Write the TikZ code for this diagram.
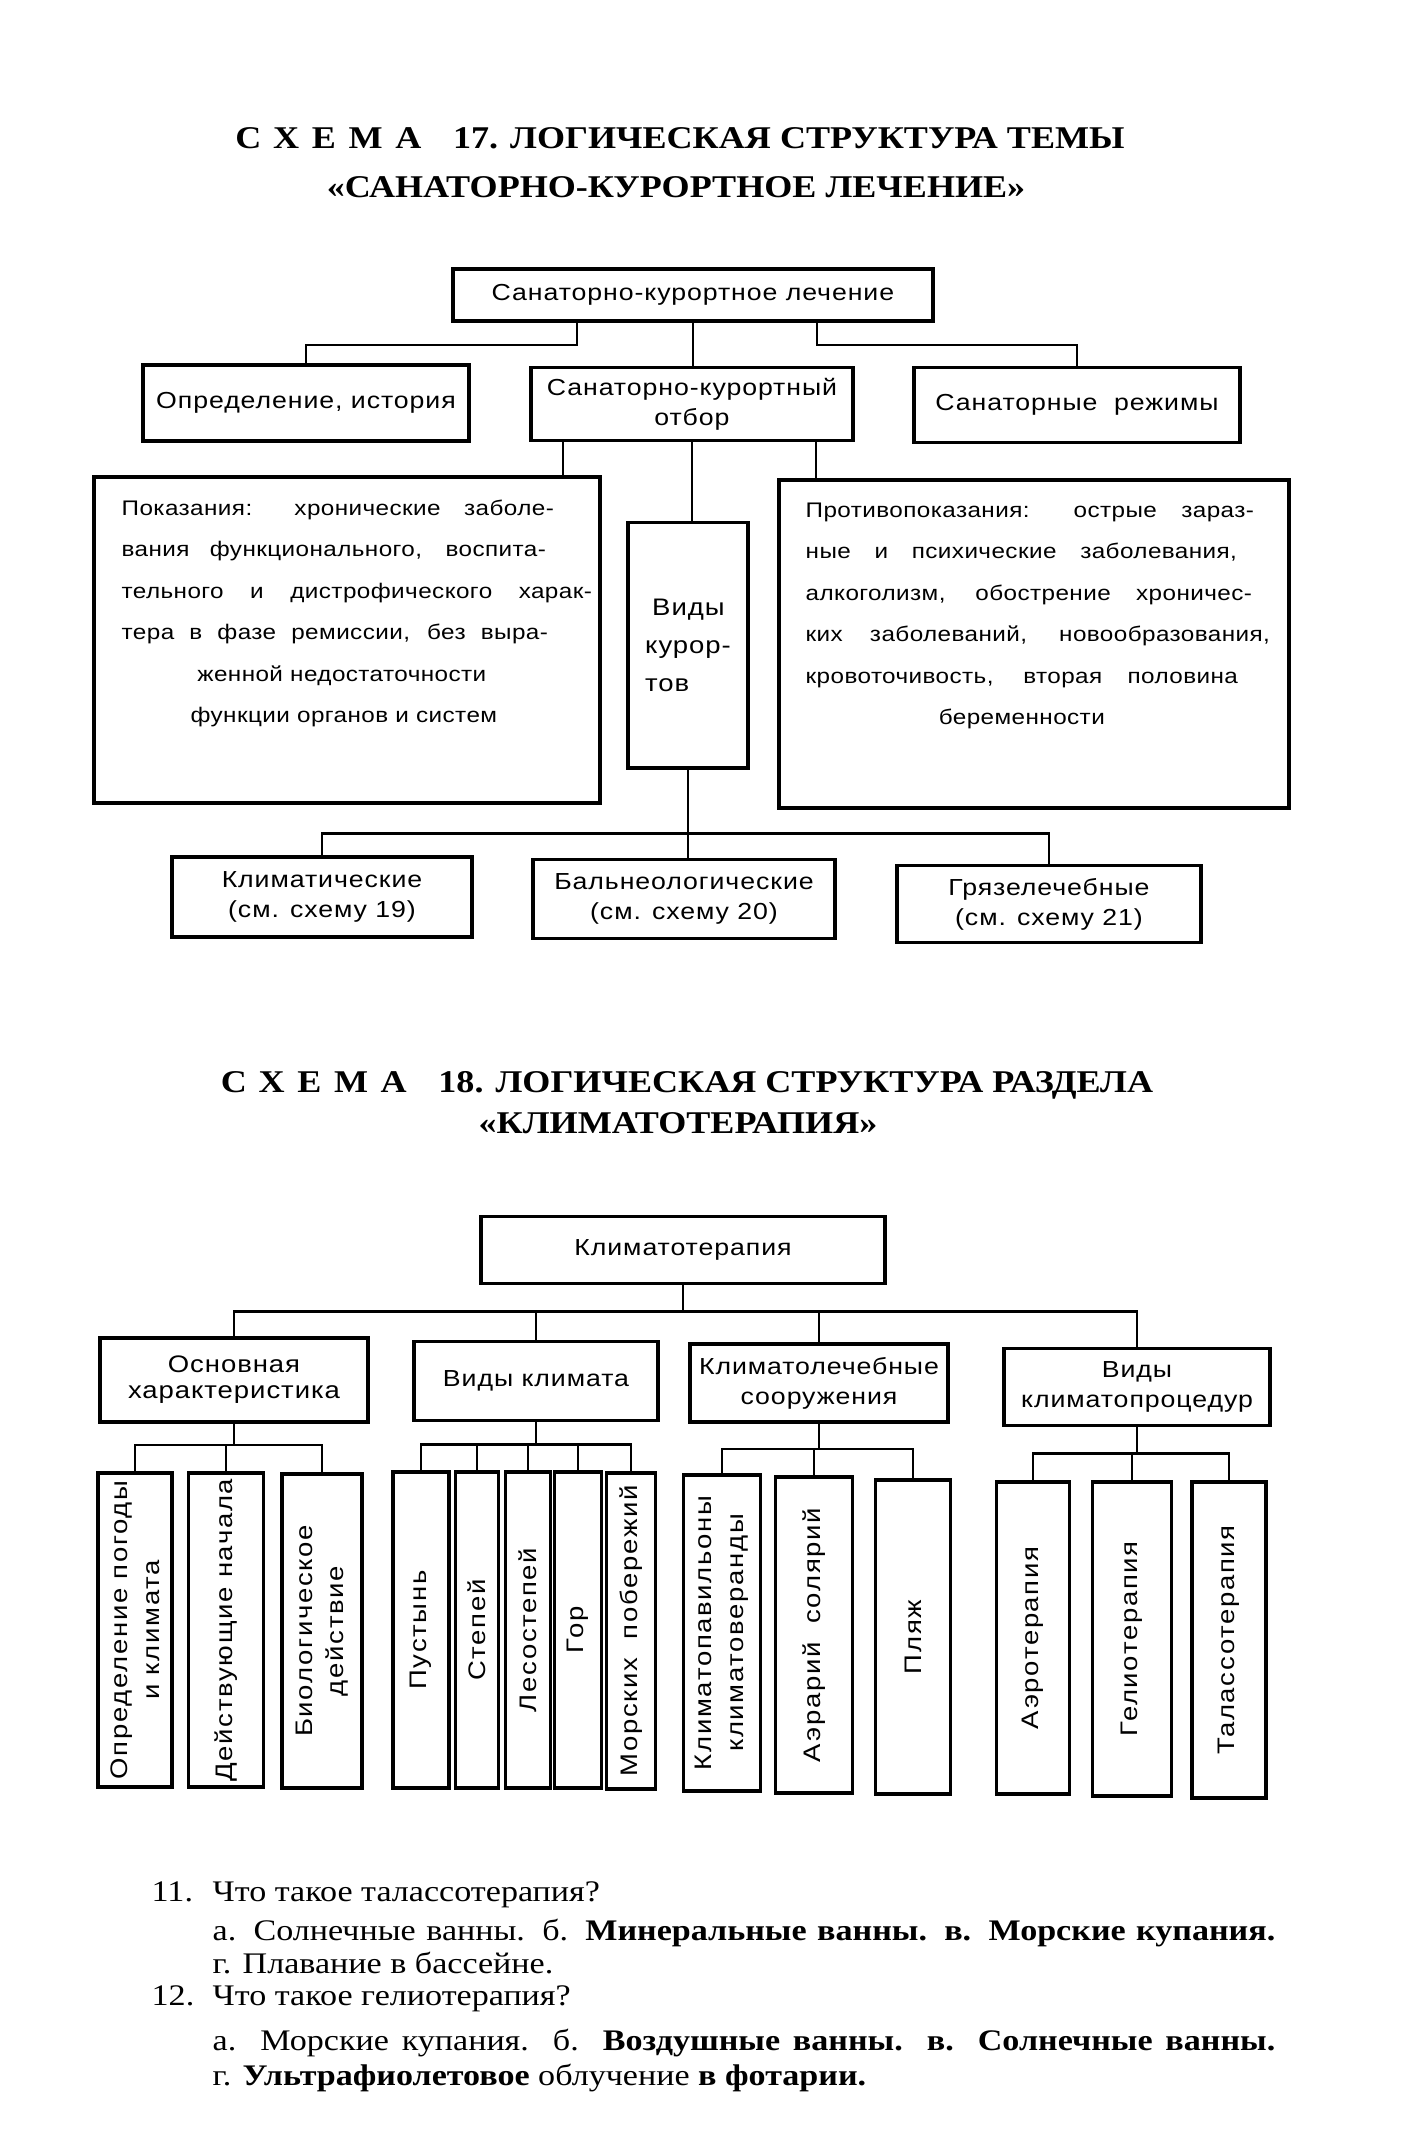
\documentclass[tikz,border=0pt]{standalone}
\usepackage{fontspec}
\setmainfont{Liberation Serif}
\newfontfamily\boxfont[FakeStretch=1.15,LetterSpace=4]{Liberation Sans}
\newfontfamily\sidefont[FakeStretch=1.15,LetterSpace=7]{Liberation Sans}
\newfontfamily\blockfont[FakeStretch=1.15,LetterSpace=2]{Liberation Sans}
\newfontfamily\headfont[FakeStretch=1.14]{Liberation Serif}
\newfontfamily\askfont[FakeStretch=1.14]{Liberation Serif}
\usetikzlibrary{calc}
\tikzset{
  frame/.style = {
    draw, line width=1.1pt, inner sep=1pt, align=center,
    font=\boxfont\fontsize{6.6}{8.5}\selectfont
  },
  vframe/.style = {frame, rotate=90, font=\sidefont\fontsize{6.8}{9}\selectfont},
  wh/.style 2 args = {minimum width=#1cm, minimum height=#2cm},
  link/.style = {line width=0.7pt},
  head/.style = {anchor=base, inner sep=0pt, font=\headfont\bfseries\fontsize{9}{11}\selectfont},
  block/.style = {anchor=north west, inner sep=0pt, align=left, font=\blockfont\fontsize{6}{11.8}\selectfont},
  ask/.style = {anchor=base west, inner sep=0pt, font=\askfont\fontsize{8.5}{10}\selectfont}
}

\begin{document}
\begin{tikzpicture}[x=0.01cm,y=-0.01cm]
  \fill[white] (0,0) rectangle (1402,2138);
  \useasboundingbox (0,0) rectangle (1402,2138);
  % Schema 17
  \node[head] (title17) at (680,148) {{\addfontfeature{LetterSpace=40}СХЕМА}\quad 17. ЛОГИЧЕСКАЯ СТРУКТУРА ТЕМЫ};
  \node[head] (title17b) at (676,197) {«САНАТОРНО-КУРОРТНОЕ ЛЕЧЕНИЕ»};
  %
  \node[frame,wh={4.80}{0.52}] (root1) at (693,295) {Санаторно-курортное лечение};
  \node[frame,wh={3.25}{0.76}] (defn) at (306,403) {Определение, история};
  \node[frame,wh={3.22}{0.73}] (select) at (692,404) {Санаторно-курортный\\отбор};
  \node[frame,wh={3.26}{0.75}] (regimes) at (1077,405) {Санаторные\ \ режимы};
  \draw[link] ($(root1.south)+(-116,0)$) -- ++(0,22) -| (defn.north);
  \draw[link] ($(root1.south)+(124,0)$) -- ++(0,22) -| (regimes.north);
  \draw[link] (root1.south) -- (root1.south |- select.north);
  %
  \node[frame,wh={5.06}{3.25}] (pos) at (347,640) {};
  \node[frame,wh={1.20}{2.45},align=left,font=\boxfont\fontsize{6.8}{10.8}\selectfont] (kinds) at (688,645) {\hspace{2pt}Виды\\курор-\\тов};
  \node[frame,wh={5.10}{3.27}] (contra) at (1034,644) {};
  \draw[link] ($(select.south)+(-129,0)$) coordinate (s1) -- (s1 |- pos.north);
  \draw[link] (select.south) -- (select.south |- kinds.north);
  \draw[link] ($(select.south)+(124,0)$) coordinate (s3) -- (s3 |- contra.north);
  %
  \node[block] (posText) at (121,499) {%
    \makebox[4.32cm][s]{Показания: хронические заболе-}\\
    \makebox[4.24cm][s]{вания функционального, воспита-}\\
    \makebox[4.70cm][s]{тельного и дистрофического харак-}\\
    \makebox[4.26cm][s]{тера в фазе ремиссии, без выра-}\\
    \makebox[4.40cm]{женной недостаточности}\\
    \makebox[4.44cm]{функции органов и систем}};
  \node[block] (contraText) at (805,502) {%
    \makebox[4.48cm][s]{Противопоказания: острые зараз-}\\
    \makebox[4.31cm][s]{ные и психические заболевания,}\\
    \makebox[4.46cm][s]{алкоголизм, обострение хроничес-}\\
    \makebox[4.64cm][s]{ких заболеваний, новообразования,}\\
    \makebox[4.32cm][s]{кровоточивость, вторая половина}\\
    \makebox[4.32cm]{беременности}};
  %
  \node[frame,wh={3.00}{0.80}] (klim) at (322,897) {Климатические\\(см. схему 19)};
  \node[frame,wh={3.01}{0.79}] (baln) at (684,899) {Бальнеологические\\(см. схему 20)};
  \node[frame,wh={3.03}{0.77}] (gryaz) at (1049,904) {Грязелечебные\\(см. схему 21)};
  \draw[link] (kinds.south) -- ++(0,64) coordinate (hub1);
  \draw[link] (klim.north) |- (hub1) -| (gryaz.north);
  \draw[link] (hub1) -- (hub1 |- baln.north);
  % Schema 18
  \node[head] (title18) at (687,1092) {{\addfontfeature{LetterSpace=40}СХЕМА}\quad 18. ЛОГИЧЕСКАЯ СТРУКТУРА РАЗДЕЛА};
  \node[head] (title18b) at (678,1133) {«КЛИМАТОТЕРАПИЯ»};
  %
  \node[frame,wh={4.04}{0.67}] (root2) at (683,1250) {Климатотерапия};
  \node[frame,wh={2.68}{0.84},font=\boxfont\fontsize{6.8}{7.4}\selectfont] (basics) at (234,1380) {Основная\\характеристика};
  \node[frame,wh={2.43}{0.79}] (climates) at (536,1381) {Виды климата};
  \node[frame,wh={2.58}{0.78}] (works) at (819,1383) {Климатолечебные\\сооружения};
  \node[frame,wh={2.65}{0.77}] (procs) at (1137,1387) {Виды\\климатопроцедур};
  \draw[link] (root2.south) -- ++(0,26) coordinate (hub2);
  \draw[link] (basics.north) |- (hub2) -| (procs.north);
  \draw[link] (climates.north) -- (climates.north |- hub2);
  \draw[link] (works.north) -- (works.north |- hub2);
  %
  \node[vframe,wh={3.14}{0.74}] (weather) at (135,1630) {Определение погоды\\и климата};
  \node[vframe,wh={3.14}{0.75}] (agents) at (226,1630) {Действующие начала};
  \node[vframe,wh={3.14}{0.80}] (bio) at (322,1631) {Биологическое\\действие};
  \draw[link] (basics.south) -- ++(0,21) coordinate (hubA);
  \draw[link] (weather.east) |- (hubA) -| (bio.east);
  \draw[link] (agents.east) -- (agents.east |- hubA);
  %
  \node[vframe,wh={3.15}{0.56}] (desert) at (421,1630) {Пустынь};
  \node[vframe,wh={3.15}{0.43}] (steppe) at (477,1630) {Степей};
  \node[vframe,wh={3.15}{0.45}] (forest) at (528,1630) {Лесостепей};
  \node[vframe,wh={3.15}{0.47}] (mount) at (578,1630) {Гор};
  \node[vframe,wh={3.15}{0.49}] (coast) at (631,1631) {Морских\ \ побережий};
  \draw[link] (climates.south) -- ++(0,22) coordinate (hubB);
  \draw[link] (desert.east) |- (hubB) -| (coast.east);
  \foreach \n in {steppe,forest,mount}
    \draw[link] (\n.east) -- (\n.east |- hubB);
  %
  \node[vframe,wh={3.15}{0.77}] (pavil) at (722,1633) {Климатопавильоны\\климатоверанды};
  \node[vframe,wh={3.15}{0.77}] (aerar) at (814,1635) {Аэрарий\ \ солярий};
  \node[vframe,wh={3.13}{0.75}] (beach) at (913,1637) {Пляж};
  \draw[link] (works.south) -- ++(0,25) coordinate (hubC);
  \draw[link] (pavil.east) |- (hubC) -| (beach.east);
  \draw[link] (aerar.east) -- (aerar.east |- hubC);
  %
  \node[vframe,wh={3.11}{0.73}] (aero) at (1033,1638) {Аэротерапия};
  \node[vframe,wh={3.14}{0.79}] (helio) at (1132,1639) {Гелиотерапия};
  \node[vframe,wh={3.15}{0.74}] (thalasso) at (1229,1640) {Талассотерапия};
  \draw[link] (procs.south) -- ++(0,26) coordinate (hubD);
  \draw[link] (aero.east) |- (hubD) -| (thalasso.east);
  \draw[link] (helio.east) -- (helio.east |- hubD);
  % Questions
  \node[ask] (q11) at (151,1901) {\makebox[0.61cm][l]{11.}Что такое талассотерапия?};
  \node[ask] (q11a) at (212,1940) {\makebox[10.62cm][s]{а. Солнечные ванны. б. {\bfseries Минеральные ванны. в. Морские купания.}}};
  \node[ask] (q11b) at (212,1973) {г. Плавание в бассейне.};
  \node[ask] (q12) at (151,2005) {\makebox[0.61cm][l]{12.}Что такое гелиотерапия?};
  \node[ask] (q12a) at (212,2050) {\makebox[10.62cm][s]{а. Морские купания. б. {\bfseries Воздушные ванны. в. Солнечные ванны.}}};
  \node[ask] (q12b) at (212,2085) {г. {\bfseries Ультрафиолетовое} облучение {\bfseries в фотарии.}};
\end{tikzpicture}
\end{document}
